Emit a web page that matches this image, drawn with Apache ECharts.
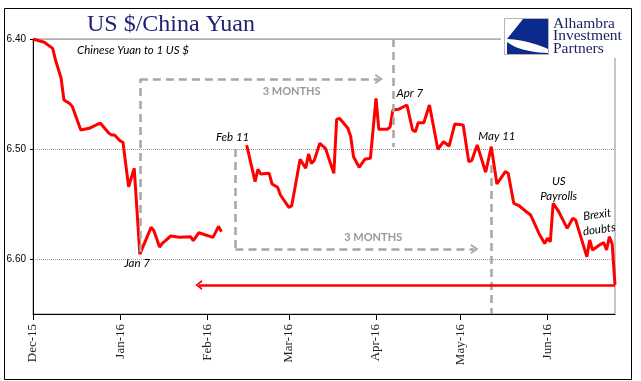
<!DOCTYPE html>
<html><head><meta charset="utf-8">
<script src="https://cdn.jsdelivr.net/npm/echarts@6/dist/echarts.min.js"></script>
<style>html,body{margin:0;padding:0;background:#fff}#c{width:641px;height:381px}</style>
</head><body><div id="c"></div>
<script>
// ---- data ----
const dates = ['2015-12-01','2015-12-05','2015-12-08','2015-12-09','2015-12-11','2015-12-12','2015-12-14','2015-12-15','2015-12-18','2015-12-21',
'2015-12-24','2015-12-25','2015-12-28','2015-12-29','2015-12-30','2016-01-01','2016-01-02','2016-01-04','2016-01-06','2016-01-08',
'2016-01-12','2016-01-13','2016-01-15','2016-01-16','2016-01-19','2016-01-22','2016-01-26','2016-01-27','2016-01-29','2016-02-03',
'2016-02-05','2016-02-06','2016-02-10','2016-02-15','2016-02-18','2016-02-19','2016-02-20','2016-02-23','2016-02-24','2016-02-26',
'2016-02-27','2016-03-01','2016-03-02','2016-03-05','2016-03-07','2016-03-08','2016-03-09','2016-03-10','2016-03-12','2016-03-14',
'2016-03-17','2016-03-18','2016-03-19','2016-03-22','2016-03-23','2016-03-24','2016-03-26','2016-03-28','2016-03-30','2016-04-01',
'2016-04-02','2016-04-05','2016-04-06','2016-04-07','2016-04-09','2016-04-12','2016-04-14','2016-04-15','2016-04-16','2016-04-18',
'2016-04-20','2016-04-23','2016-04-25','2016-04-27','2016-04-29','2016-05-02','2016-05-04','2016-05-05','2016-05-07','2016-05-10',
'2016-05-12','2016-05-14','2016-05-17','2016-05-18','2016-05-20','2016-05-22','2016-05-24','2016-05-26','2016-05-29','2016-05-31',
'2016-06-01','2016-06-02','2016-06-03','2016-06-05','2016-06-08','2016-06-10','2016-06-11','2016-06-13','2016-06-15','2016-06-16',
'2016-06-17','2016-06-20','2016-06-21','2016-06-22','2016-06-23','2016-06-24','2016-06-25'];
const values = [6.4000,6.4030,6.4085,6.4191,6.4357,6.4555,6.4585,6.4615,6.4827,6.4812,
6.4775,6.4766,6.4857,6.4873,6.4873,6.4927,6.4939,6.5343,6.5175,6.5955,
6.5712,6.5743,6.5891,6.5857,6.5791,6.5803,6.5797,6.5832,6.5761,6.5803,
6.5703,6.5752,null,6.4964,6.5297,6.5185,6.5227,6.5221,6.5318,6.5348,
6.5418,6.5530,6.5518,6.5094,6.5175,6.5045,6.5130,6.5106,6.4948,6.4994,
6.5221,6.4730,6.4721,6.4812,6.4886,6.5070,6.5166,6.5094,6.5085,6.4539,
6.4821,6.4821,6.4800,6.4645,6.4639,6.4600,6.4827,6.4843,6.4761,6.4761,
6.4600,6.5003,6.4934,6.4973,6.4773,6.4782,6.5115,6.5106,6.4964,6.5211,
6.4979,6.5318,6.5206,6.5221,6.5494,6.5518,6.5561,6.5600,6.5770,6.5860,
6.5812,6.5843,6.5494,6.5570,6.5721,6.5630,6.5645,6.5812,6.5979,6.5827,
6.5918,6.5864,6.5852,6.5918,6.5797,6.5864,6.6236];
const monthTicks = ['2015-12-01','2016-01-01','2016-02-01','2016-03-01','2016-04-01','2016-05-01','2016-06-01'];
const monthNames = ['Jan','Feb','Mar','Apr','May','Jun','Jul','Aug','Sep','Oct','Nov','Dec'];
const xRange = ['2015-12-01','2016-06-25'];
const yRange = [6.40, 6.65];
// annotations (data space)
const noteTexts = ['Jan 7','Feb 11','Apr 7','May 11','US\nPayrolls','Brexit\ndoubts'];
const noteDates = ['2016-01-07','2016-02-10','2016-04-13','2016-05-14','2016-06-05','2016-06-19'];
const noteValues = [6.6041,6.4895,6.4491,6.4882,6.5359,6.5664];
const spanLabelDates = ['2016-03-02','2016-03-31'];
const spanLabelValues = [6.4473,6.5805];
const spanStarts = ['2016-01-08','2016-02-11'];
const spanArrowEnds = ['2016-04-02','2016-05-06'];
const spanLevels = [6.4364,6.5910];
const spanStartFrom = [6.5936,6.5000];
const spanEnds = ['2016-04-07','2016-05-12'];
const spanEndFrom = [6.4000,6.5145];
const spanEndTo = [6.4982,6.6500];
const arrowToDate = '2016-01-29';

// ---- helpers ----
const t = s => { const [y,m,d] = s.split('-').map(Number); return new Date(y, m-1, d).getTime(); };
const fmtMonth = v => { const d = new Date(v); return monthNames[d.getMonth()] + '-' + String(d.getFullYear()).slice(2); };
const chevron = 'path://M0,9 L5,0 L10,9 L8.3,10 L5,3.6 L1.7,10 Z';
const gray = '#a6a6a6';
const dashStyle = {color: gray, width: 2.5, type: [8,5]};

const seriesData = dates.map((d,i) => [t(d), values[i]]);
const lastDate = dates[dates.length-1], lastVal = values[values.length-1];

const ml = [];
for (let i = 0; i < spanStarts.length; i++) {
  ml.push([{coord:[t(spanStarts[i]), spanStartFrom[i]], lineStyle:dashStyle},{coord:[t(spanStarts[i]), spanLevels[i]], lineStyle:dashStyle}]);
  ml.push([{coord:[t(spanStarts[i]), spanLevels[i]], lineStyle:dashStyle, itemStyle:{color:gray}},{coord:[t(spanArrowEnds[i]), spanLevels[i]], lineStyle:dashStyle, itemStyle:{color:gray}, symbol:chevron, symbolSize:[10,8]}]);
  ml.push([{coord:[t(spanEnds[i]), spanEndFrom[i]], lineStyle:dashStyle},{coord:[t(spanEnds[i]), spanEndTo[i]], lineStyle:dashStyle}]);
}
const redStyle = {color:'#ff0000', width:2.5, type:'solid'};
ml.push([{coord:[t(lastDate), lastVal], lineStyle:redStyle, itemStyle:{color:'#ff0000'}},{coord:[t(arrowToDate), lastVal], lineStyle:redStyle, itemStyle:{color:'#ff0000'}, symbol:chevron, symbolSize:[10,7]}]);

const option = {
  animation: false,
  backgroundColor: '#fff',
  grid: {left:33, right:26, top:39, bottom:67, show:true, borderColor:'#8c8c8c', borderWidth:1, backgroundColor:'transparent'},
  xAxis: {
    type:'value', min:t(xRange[0]), max:t(xRange[1]), scale:true,
    axisLine:{show:true, onZero:false, lineStyle:{color:'#000', width:1}},
    axisTick:{show:true, length:6, customValues: monthTicks.map(t), lineStyle:{color:'#000'}},
    axisLabel:{customValues: monthTicks.map(t), rotate:90, margin:10, fontFamily:'Liberation Serif', fontSize:13, color:'#222', formatter: fmtMonth},
    splitLine:{show:false}
  },
  yAxis: {
    type:'value', inverse:true, min:yRange[0], max:yRange[1], interval:0.1,
    axisLine:{show:true, onZero:false, lineStyle:{color:'#000', width:1}},
    axisTick:{show:true, length:3, lineStyle:{color:'#000'}},
    axisLabel:{showMaxLabel:false, margin:7, fontFamily:'Liberation Sans', fontSize:10, color:'#000', formatter: v => v.toFixed(2)},
    splitLine:{show:true, lineStyle:{color:'#9a9a9a', type:'dotted', width:1}}
  },
  series: [{
    type:'line', data: seriesData, showSymbol:false, symbol:'none', connectNulls:false,
    lineStyle:{color:'#ff0000', width:3}, itemStyle:{color:'#ff0000'},
    markLine:{silent:true, animation:false, symbol:['none','none'], label:{show:false}, data: ml}
  }]
};

const chart = echarts.init(document.getElementById('c'), null, {renderer:'canvas'});
chart.setOption(option);

const px = (d, v) => chart.convertToPixel({gridIndex:0}, [t(d), v]);
const txt = (x, y, text, font, fill, align, extra) => {
  const el = {type:'text', x:x, y:y, z:100,
    style: Object.assign({text:text, font:font, fill:fill, align:align||'center', verticalAlign:'middle', textAlign:align||'center', textVerticalAlign:'middle'}, (extra&&extra.style)||{})};
  if (extra && extra.rotation !== undefined) el.rotation = extra.rotation;
  return el;
};
const quad = (p0, c, p1, n) => {
  const pts = [];
  for (let k = 0; k <= n; k++) {
    const u = k / n, a = (1-u)*(1-u), b = 2*(1-u)*u, d = u*u;
    pts.push([a*p0[0]+b*c[0]+d*p1[0], a*p0[1]+b*c[1]+d*p1[1]]);
  }
  return pts;
};

const g = [];
noteTexts.forEach((s,i) => {
  const p = px(noteDates[i], noteValues[i]);
  const rot = s.startsWith('Brexit') ? 8*Math.PI/180 : undefined;
  g.push(txt(p[0], p[1], s, 'italic 11.5px Lato', '#000', 'center', {style:{lineHeight:15}, rotation: rot}));
});
spanLabelDates.forEach((d,i) => {
  const p = px(d, spanLabelValues[i]);
  g.push(txt(p[0], p[1], '3 MONTHS', 'bold 11px Lato', '#999', 'center'));
});
g.push(txt(87, 24.5, 'US $/China Yuan', '24px "Liberation Serif"', '#1f1f6e', 'left'));
g.push(txt(77, 50, 'Chinese Yuan to 1 US $', 'italic 11.5px Lato', '#000', 'left'));
g.push({type:'rect', z:100, shape:{x:501, y:10, width:130, height:48}, style:{fill:'#fff'}});
g.push({type:'rect', z:101, shape:{x:504.5, y:18.5, width:44, height:36}, style:{fill:'#fff', stroke:'#b5b5b5', lineWidth:1}});
const upper = [[523,19],[548,19]].concat(quad([548,49],[528,40],[507,39],12));
const lower = quad([507,42],[520,52],[548,53],12).concat([[548,54],[507,54]]);
g.push({type:'polygon', z:102, shape:{points:upper}, style:{fill:'#0b2a8c'}});
g.push({type:'polygon', z:102, shape:{points:lower}, style:{fill:'#0b2a8c'}});
g.push(txt(553, 23.5, 'Alhambra', '15.5px "Liberation Serif"', '#1a1f5e', 'left'));
g.push(txt(553, 36, 'Investment', '15.5px "Liberation Serif"', '#1a1f5e', 'left'));
g.push(txt(553, 48.5, 'Partners', '15.5px "Liberation Serif"', '#1a1f5e', 'left'));
g.push({type:'rect', z:110, shape:{x:4.5, y:8.5, width:627, height:371}, style:{fill:'none', stroke:'#000', lineWidth:1}});
chart.setOption({graphic: g});
</script></body></html>
